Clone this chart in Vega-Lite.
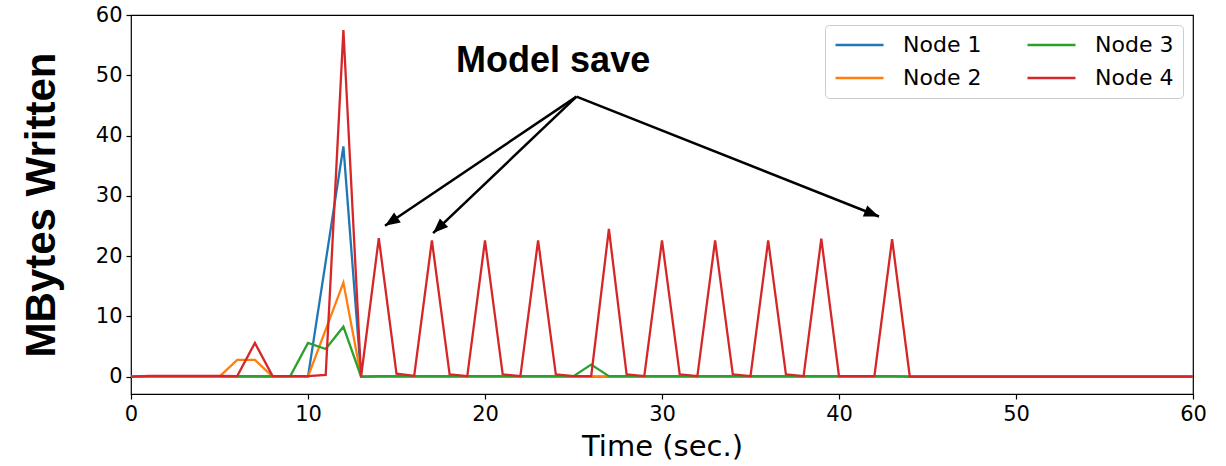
{
  "$schema": "https://vega.github.io/schema/vega-lite/v6.json",
  "width": 1062,
  "height": 379,
  "autosize": "none",
  "padding": {"left": 131, "top": 15, "right": 33, "bottom": 72},
  "background": "white",
  "config": {
    "view": {"stroke": "black", "strokeWidth": 1.2},
    "axis": {
      "grid": false,
      "domain": false,
      "labelFont": "DejaVu Sans",
      "labelFontSize": 21,
      "labelColor": "black",
      "tickColor": "black",
      "tickSize": 5,
      "tickWidth": 1.2,
      "labelPadding": 4,
      "labelFlush": false,
      "labelOverlap": false
    }
  },
  "layer": [
    {
      "data": {
        "values": [
          {"t": 0, "Node 1": 0, "Node 2": 0, "Node 3": 0, "Node 4": 0},
          {"t": 1, "Node 1": 0, "Node 2": 0, "Node 3": 0.1, "Node 4": 0.15},
          {"t": 2, "Node 1": 0, "Node 2": 0, "Node 3": 0.1, "Node 4": 0.15},
          {"t": 3, "Node 1": 0, "Node 2": 0, "Node 3": 0.1, "Node 4": 0.15},
          {"t": 4, "Node 1": 0, "Node 2": 0, "Node 3": 0.1, "Node 4": 0.15},
          {"t": 5, "Node 1": 0, "Node 2": 0, "Node 3": 0.1, "Node 4": 0.15},
          {"t": 6, "Node 1": 0, "Node 2": 2.8, "Node 3": 0.1, "Node 4": 0.1},
          {"t": 7, "Node 1": 0, "Node 2": 2.8, "Node 3": 0.1, "Node 4": 5.6},
          {"t": 8, "Node 1": 0, "Node 2": 0, "Node 3": 0.1, "Node 4": 0.1},
          {"t": 9, "Node 1": 0, "Node 2": 0, "Node 3": 0.1, "Node 4": 0.1},
          {"t": 10, "Node 1": 0, "Node 2": 0, "Node 3": 5.6, "Node 4": 0.1},
          {"t": 11, "Node 1": 19.1, "Node 2": 7.8, "Node 3": 4.6, "Node 4": 0.3},
          {"t": 12, "Node 1": 38.2, "Node 2": 15.6, "Node 3": 8.3, "Node 4": 57.5},
          {"t": 13, "Node 1": 0, "Node 2": 0, "Node 3": 0, "Node 4": 0},
          {"t": 14, "Node 1": 0, "Node 2": 0, "Node 3": 0.1, "Node 4": 23.0},
          {"t": 15, "Node 1": 0, "Node 2": 0, "Node 3": 0.1, "Node 4": 0.5},
          {"t": 16, "Node 1": 0, "Node 2": 0, "Node 3": 0.1, "Node 4": 0.15},
          {"t": 17, "Node 1": 0, "Node 2": 0, "Node 3": 0.1, "Node 4": 22.6},
          {"t": 18, "Node 1": 0, "Node 2": 0, "Node 3": 0.1, "Node 4": 0.4},
          {"t": 19, "Node 1": 0, "Node 2": 0, "Node 3": 0.1, "Node 4": 0.1},
          {"t": 20, "Node 1": 0, "Node 2": 0, "Node 3": 0.1, "Node 4": 22.6},
          {"t": 21, "Node 1": 0, "Node 2": 0, "Node 3": 0.1, "Node 4": 0.4},
          {"t": 22, "Node 1": 0, "Node 2": 0, "Node 3": 0.1, "Node 4": 0.1},
          {"t": 23, "Node 1": 0, "Node 2": 0, "Node 3": 0.1, "Node 4": 22.6},
          {"t": 24, "Node 1": 0, "Node 2": 0, "Node 3": 0.1, "Node 4": 0.4},
          {"t": 25, "Node 1": 0, "Node 2": 0, "Node 3": 0.1, "Node 4": 0.1},
          {"t": 26, "Node 1": 0, "Node 2": 0, "Node 3": 2.0, "Node 4": 0.1},
          {"t": 27, "Node 1": 0, "Node 2": 0, "Node 3": 0.1, "Node 4": 24.5},
          {"t": 28, "Node 1": 0, "Node 2": 0, "Node 3": 0.1, "Node 4": 0.4},
          {"t": 29, "Node 1": 0, "Node 2": 0, "Node 3": 0.1, "Node 4": 0.1},
          {"t": 30, "Node 1": 0, "Node 2": 0, "Node 3": 0.1, "Node 4": 22.6},
          {"t": 31, "Node 1": 0, "Node 2": 0, "Node 3": 0.1, "Node 4": 0.4},
          {"t": 32, "Node 1": 0, "Node 2": 0, "Node 3": 0.1, "Node 4": 0.1},
          {"t": 33, "Node 1": 0, "Node 2": 0, "Node 3": 0.1, "Node 4": 22.6},
          {"t": 34, "Node 1": 0, "Node 2": 0, "Node 3": 0.1, "Node 4": 0.4},
          {"t": 35, "Node 1": 0, "Node 2": 0, "Node 3": 0.1, "Node 4": 0.1},
          {"t": 36, "Node 1": 0, "Node 2": 0, "Node 3": 0.1, "Node 4": 22.6},
          {"t": 37, "Node 1": 0, "Node 2": 0, "Node 3": 0.1, "Node 4": 0.4},
          {"t": 38, "Node 1": 0, "Node 2": 0, "Node 3": 0.1, "Node 4": 0.1},
          {"t": 39, "Node 1": 0, "Node 2": 0, "Node 3": 0.1, "Node 4": 22.9},
          {"t": 40, "Node 1": 0, "Node 2": 0, "Node 3": 0.1, "Node 4": 0.1},
          {"t": 41, "Node 1": 0, "Node 2": 0, "Node 3": 0.1, "Node 4": 0.1},
          {"t": 42, "Node 1": 0, "Node 2": 0, "Node 3": 0.1, "Node 4": 0.1},
          {"t": 43, "Node 1": 0, "Node 2": 0, "Node 3": 0.1, "Node 4": 22.8},
          {"t": 44, "Node 1": 0, "Node 2": 0, "Node 3": 0, "Node 4": 0},
          {"t": 45, "Node 1": 0, "Node 2": 0, "Node 3": 0, "Node 4": 0},
          {"t": 46, "Node 1": 0, "Node 2": 0, "Node 3": 0, "Node 4": 0},
          {"t": 47, "Node 1": 0, "Node 2": 0, "Node 3": 0, "Node 4": 0},
          {"t": 48, "Node 1": 0, "Node 2": 0, "Node 3": 0, "Node 4": 0},
          {"t": 49, "Node 1": 0, "Node 2": 0, "Node 3": 0, "Node 4": 0},
          {"t": 50, "Node 1": 0, "Node 2": 0, "Node 3": 0, "Node 4": 0},
          {"t": 51, "Node 1": 0, "Node 2": 0, "Node 3": 0, "Node 4": 0},
          {"t": 52, "Node 1": 0, "Node 2": 0, "Node 3": 0, "Node 4": 0},
          {"t": 53, "Node 1": 0, "Node 2": 0, "Node 3": 0, "Node 4": 0},
          {"t": 54, "Node 1": 0, "Node 2": 0, "Node 3": 0, "Node 4": 0},
          {"t": 55, "Node 1": 0, "Node 2": 0, "Node 3": 0, "Node 4": 0},
          {"t": 56, "Node 1": 0, "Node 2": 0, "Node 3": 0, "Node 4": 0},
          {"t": 57, "Node 1": 0, "Node 2": 0, "Node 3": 0, "Node 4": 0},
          {"t": 58, "Node 1": 0, "Node 2": 0, "Node 3": 0, "Node 4": 0},
          {"t": 59, "Node 1": 0, "Node 2": 0, "Node 3": 0, "Node 4": 0},
          {"t": 60, "Node 1": 0, "Node 2": 0, "Node 3": 0, "Node 4": 0}
        ]
      },
      "transform": [{"fold": ["Node 1", "Node 2", "Node 3", "Node 4"], "as": ["node", "v"]}],
      "mark": {"type": "line", "strokeWidth": 2.3, "clip": true},
      "encoding": {
        "x": {
          "field": "t", "type": "quantitative",
          "scale": {"domain": [0, 60], "nice": false, "zero": false},
          "axis": {"values": [0, 10, 20, 30, 40, 50, 60], "labelFlush": false, "title": "Time (sec.)", "titleFont": "DejaVu Sans", "titleFontSize": 29, "titleFontWeight": "normal", "titleColor": "black", "titlePadding": 8}
        },
        "y": {
          "field": "v", "type": "quantitative",
          "scale": {"domain": [-2.87, 60], "nice": false, "zero": false},
          "axis": {"values": [0, 10, 20, 30, 40, 50, 60], "labelFlush": false, "title": "MBytes Written", "titleFont": "Liberation Sans", "titleFontSize": 42, "titleFontWeight": "bold", "titleColor": "black", "titlePadding": 32}
        },
        "color": {
          "field": "node", "type": "nominal",
          "scale": {"domain": ["Node 1", "Node 2", "Node 3", "Node 4"], "range": ["#1f77b4", "#ff7f0e", "#2ca02c", "#d62728"]},
          "legend": {
            "title": null,
            "orient": "top-right",
            "offset": 10,
            "columns": 2,
            "columnPadding": 44,
            "rowPadding": 11,
            "symbolType": "stroke",
            "symbolSize": 2304,
            "symbolStrokeWidth": 2.3,
            "clipHeight": 22,
            "labelFont": "DejaVu Sans",
            "labelFontSize": 22,
            "labelColor": "black",
            "labelOffset": 18,
            "strokeColor": "#cccccc",
            "fillColor": "white",
            "cornerRadius": 4,
            "padding": 9
          }
        }
      }
    },
    {
      "data": {
        "values": [
          {"a": "a", "x": 25.17, "y": 46.46, "x2": 14.35, "y2": 25.03},
          {"a": "b", "x": 25.17, "y": 46.46, "x2": 17.07, "y2": 23.82},
          {"a": "c", "x": 25.17, "y": 46.46, "x2": 42.26, "y2": 26.57}
        ]
      },
      "encoding": {
        "x": {"field": "x", "type": "quantitative", "scale": {"domain": [0, 60], "nice": false, "zero": false}, "title": "Time (sec.)"},
        "y": {"field": "y", "type": "quantitative", "scale": {"domain": [-2.87, 60], "nice": false, "zero": false}, "title": "MBytes Written"}
      },
      "layer": [
        {
          "mark": {"type": "rule", "color": "black", "strokeWidth": 2.5},
          "encoding": {
            "x2": {"field": "x2"},
            "y2": {"field": "y2"}
          }
        },
        {
          "transform": [{"filter": "datum.a == 'a'"}],
          "mark": {"type": "point", "shape": "M0,0 L-0.4,1 L0.4,1 Z", "filled": true, "color": "black", "opacity": 1, "size": 900, "angle": 236},
          "encoding": {
            "x": {"field": "x2", "type": "quantitative", "title": "Time (sec.)"},
            "y": {"field": "y2", "type": "quantitative", "title": "MBytes Written"}
          }
        },
        {
          "transform": [{"filter": "datum.a == 'b'"}],
          "mark": {"type": "point", "shape": "M0,0 L-0.4,1 L0.4,1 Z", "filled": true, "color": "black", "opacity": 1, "size": 900, "angle": 226.4},
          "encoding": {
            "x": {"field": "x2", "type": "quantitative", "title": "Time (sec.)"},
            "y": {"field": "y2", "type": "quantitative", "title": "MBytes Written"}
          }
        },
        {
          "transform": [{"filter": "datum.a == 'c'"}],
          "mark": {"type": "point", "shape": "M0,0 L-0.4,1 L0.4,1 Z", "filled": true, "color": "black", "opacity": 1, "size": 900, "angle": 111.6},
          "encoding": {
            "x": {"field": "x2", "type": "quantitative", "title": "Time (sec.)"},
            "y": {"field": "y2", "type": "quantitative", "title": "MBytes Written"}
          }
        }
      ]
    },
    {
      "data": {"values": [{"label": "Model save", "x": 23.85, "y": 50.5}]},
      "mark": {"type": "text", "font": "Liberation Sans", "fontSize": 36, "fontWeight": "bold", "color": "black", "align": "center", "baseline": "alphabetic"},
      "encoding": {
        "x": {"field": "x", "type": "quantitative", "scale": {"domain": [0, 60], "nice": false, "zero": false}, "title": "Time (sec.)"},
        "y": {"field": "y", "type": "quantitative", "scale": {"domain": [-2.87, 60], "nice": false, "zero": false}, "title": "MBytes Written"},
        "text": {"field": "label"}
      }
    }
  ]
}
